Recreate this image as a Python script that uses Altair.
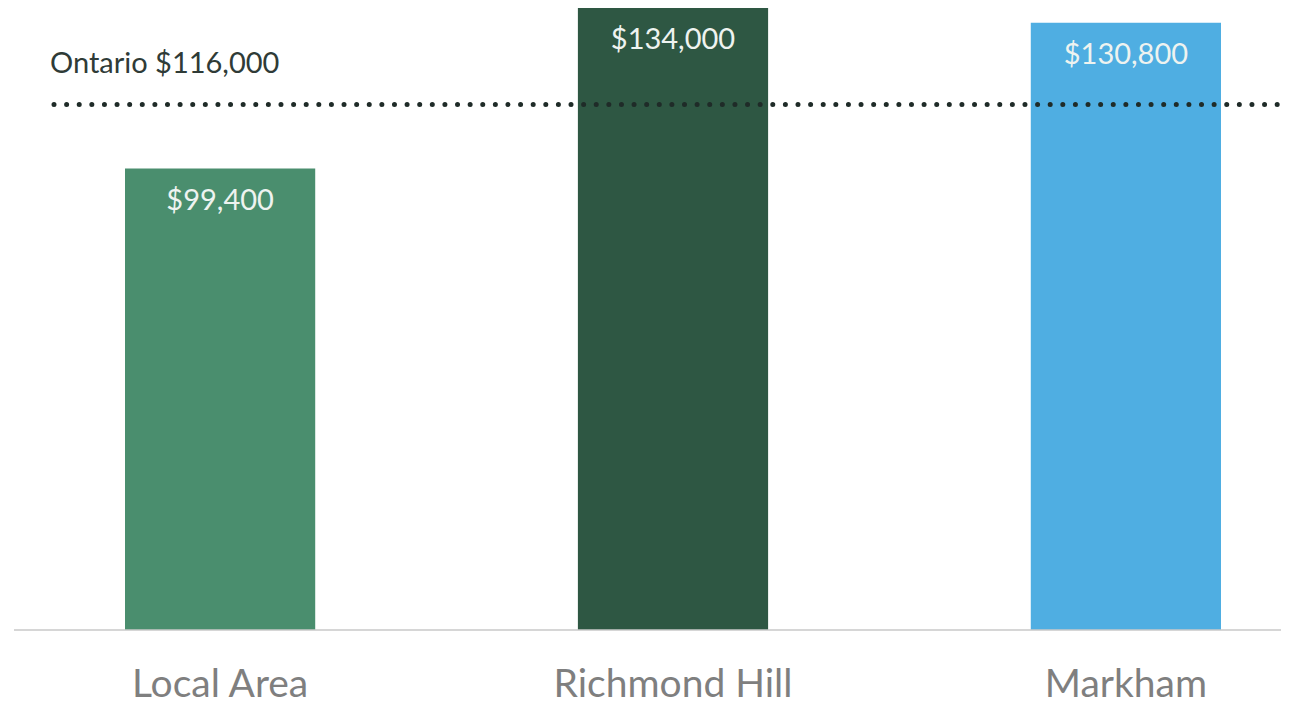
import altair as alt
import pandas as pd

categories = ["Local Area", "Richmond Hill", "Markham"]
values = [99400, 134000, 130800]
value_labels = ["$99,400", "$134,000", "$130,800"]
bar_colors = ["#4a8e6e", "#2e5743", "#4faee2"]

ontario_label = ["Ontario $116,000"]
ontario_line_level = [113200]  # where the dotted line sits in the picture

bars_df = pd.DataFrame({"area": categories, "value": values, "label": value_labels})
ont_df = pd.DataFrame({"level": ontario_line_level, "label": ontario_label})
base_df = pd.DataFrame({"zero": [0]})

FONT = "Lato"

x_enc = alt.X(
    "area:N",
    sort=categories,
    scale=alt.Scale(range=[117, 1213], paddingInner=0.58, paddingOuter=0),
    axis=alt.Axis(
        title=None, domain=False, ticks=False, labelAngle=0,
        labelFontSize=39, labelColor="#7f7f7f", labelFont=FONT,
        labelPadding=35, labelLimit=0,
    ),
)
y_enc = alt.Y("value:Q", scale=alt.Scale(domain=[0, 134000], nice=False, zero=True), axis=None)

bars = alt.Chart(bars_df).mark_bar().encode(
    x=x_enc,
    y=y_enc,
    color=alt.Color("area:N", scale=alt.Scale(domain=categories, range=bar_colors), legend=None),
)

bar_text = alt.Chart(bars_df).mark_text(
    baseline="middle", dy=32, fontSize=29, font=FONT, color="#eef3f0"
).encode(x=alt.X("area:N", sort=categories), y="value:Q", text="label:N")

baseline = alt.Chart(base_df).mark_rule(color="#c8c8c8", strokeWidth=1.5).encode(
    y=alt.Y("zero:Q"), x=alt.value(6), x2=alt.value(1273)
)

dotted = alt.Chart(ont_df).mark_rule(
    color="#1f2b28", strokeWidth=5, strokeDash=[0.01, 12.6], strokeCap="round"
).encode(y=alt.Y("level:Q"), x=alt.value(46), x2=alt.value(1290))

ont_text = alt.Chart(ont_df).mark_text(
    align="left", baseline="middle", dy=-41, fontSize=29, font=FONT, color="#2f3b37"
).encode(y=alt.Y("level:Q"), x=alt.value(42), text="label:N")

chart = alt.layer(bars, baseline, dotted, bar_text, ont_text).properties(
    width=1275, height=622,
    autosize=alt.AutoSizeParams(type="none"),
    padding={"left": 0, "right": 0, "top": 0, "bottom": 73},
).configure_view(stroke=None).configure_axis(grid=False)

chart.save("out.html", embed_options={"renderer": "svg", "actions": False})
